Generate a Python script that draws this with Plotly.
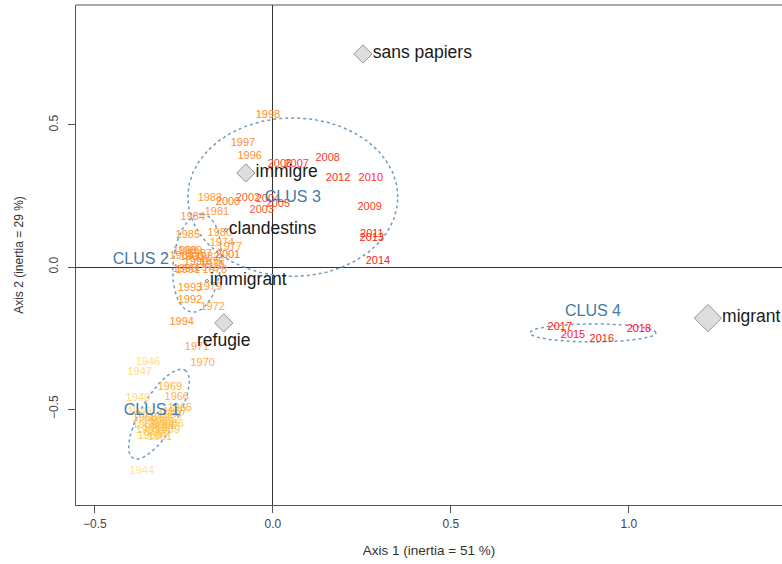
import numpy as np
import plotly.graph_objects as go

# ---------------- data ----------------
years = [1944, 1946, 1947, 1948, 1949, 1950, 1951, 1952, 1953, 1954, 1955, 1956,
         1957, 1958, 1959, 1960, 1961, 1962, 1963, 1964, 1965, 1966, 1967, 1968,
         1969, 1970, 1971, 1972, 1973, 1974, 1975, 1976, 1977, 1978, 1979, 1980,
         1981, 1982, 1983, 1984, 1985, 1986, 1987, 1988, 1989, 1990, 1991, 1992,
         1993, 1994, 1995, 1996, 1997, 1998, 1999, 2000, 2001, 2002, 2003, 2004,
         2005, 2006, 2007, 2008, 2009, 2010, 2011, 2012, 2013, 2014, 2015, 2016,
         2017, 2018]
year_x = [-0.368, -0.351, -0.374, -0.379, -0.374, -0.346, -0.317, -0.295, -0.360, -0.331, -0.303, -0.284,
          -0.351, -0.323, -0.295, -0.346, -0.317, -0.331, -0.312, -0.289, -0.261, -0.270, -0.275, -0.360,
          -0.289, -0.197, -0.213, -0.169, -0.185, -0.143, -0.169, -0.171, -0.121, -0.163, -0.177, -0.149,
          -0.157, -0.185, -0.177, -0.225, -0.239, -0.256, -0.205, -0.247, -0.233, -0.228, -0.239, -0.233,
          -0.233, -0.256, -0.247, -0.065, -0.084, -0.014, -0.216, -0.126, -0.126, -0.070, -0.031, -0.014,
          0.014, 0.020, 0.067, 0.154, 0.272, 0.275, 0.278, 0.183, 0.278, 0.295, 0.843, 0.924,
          0.806, 1.028]
year_y = [-0.718, -0.335, -0.370, -0.461, -0.511, -0.539, -0.532, -0.539, -0.556, -0.553, -0.560, -0.553,
          -0.574, -0.581, -0.574, -0.595, -0.599, -0.567, -0.546, -0.521, -0.496, -0.458, -0.511, -0.532,
          -0.423, -0.338, -0.282, -0.141, -0.004, 0.085, 0.007, 0.018, 0.070, -0.011, -0.070, 0.120,
          0.194, 0.035, 0.243, 0.176, 0.113, 0.039, 0.046, 0.056, 0.056, 0.035, -0.011, -0.116,
          -0.074, -0.194, -0.007, 0.391, 0.437, 0.535, 0.018, 0.229, 0.042, 0.243, 0.201, 0.239,
          0.222, 0.363, 0.363, 0.384, 0.211, 0.313, 0.116, 0.313, 0.102, 0.021, -0.239, -0.254,
          -0.211, -0.218]

words = ["sans papiers", "immigre", "clandestins", "immigrant", "refugie", "migrant"]
word_x = [0.253, -0.076, -0.132, -0.185, -0.138, 1.222]
word_y = [0.750, 0.331, 0.130, -0.049, -0.197, -0.180]
word_weight = [14, 14, 3, 3, 14, 21]

clusters = ["CLUS 1", "CLUS 2", "CLUS 3", "CLUS 4"]
clus_label_x = [-0.340, -0.371, 0.056, 0.899]
clus_label_y = [-0.507, 0.025, 0.243, -0.158]
# ellipse: centre and two semi-axis vectors (data units)
ell_cx = [-0.320, -0.213, 0.056, 0.899]
ell_cy = [-0.518, 0.014, 0.246, -0.232]
ell_ux = [0.073, 0.014, 0.295, 0.177]
ell_uy = [0.155, 0.173, 0.000, 0.000]
ell_vx = [0.044, 0.067, 0.000, 0.000]
ell_vy = [-0.032, -0.007, 0.279, 0.032]

x_ticks = [-0.5, 0.0, 0.5, 1.0]
y_ticks = [-0.5, 0.0, 0.5]

# ---------------- styling helpers ----------------
stops = [(1944, (255, 226, 150)), (1960, (255, 196, 80)), (1975, (255, 158, 66)),
         (1998, (255, 138, 44)), (2004, (255, 74, 42)), (2018, (255, 16, 16))]


def year_color(yr):
    for (y0, c0), (y1, c1) in zip(stops[:-1], stops[1:]):
        if y0 <= yr <= y1:
            f = (yr - y0) / (y1 - y0)
            c = [round(a + (b - a) * f) for a, b in zip(c0, c1)]
            return "rgb(%d,%d,%d)" % tuple(c)
    return "rgb(255,16,16)"


FONT = "Liberation Sans, Arial, sans-serif"
fig = go.Figure()

t = np.linspace(0, 2 * np.pi, 240)
for i in range(len(clusters)):
    ex = ell_cx[i] + ell_ux[i] * np.cos(t) + ell_vx[i] * np.sin(t)
    ey = ell_cy[i] + ell_uy[i] * np.cos(t) + ell_vy[i] * np.sin(t)
    fig.add_trace(go.Scatter(x=ex, y=ey, mode="lines",
                             line=dict(color="#6f9cc0", width=1.5, dash="dot"),
                             hoverinfo="skip", showlegend=False))

fig.add_trace(go.Scatter(x=year_x, y=year_y, mode="text", text=[str(y) for y in years],
                         textposition="middle center",
                         textfont=dict(family=FONT, size=11, color=[year_color(y) for y in years]),
                         showlegend=False))

positions = ["middle right"] * len(words)
positions[words.index("refugie")] = "bottom center"
fig.add_trace(go.Scatter(x=word_x, y=word_y, mode="markers+text", text=words,
                         textposition=positions,
                         marker=dict(symbol="diamond", size=word_weight, color="#cfcfcf",
                                     line=dict(color="#6a6a6a", width=1)),
                         textfont=dict(family=FONT, size=17.5, color="#1a1a1a"),
                         showlegend=False))

fig.add_trace(go.Scatter(x=clus_label_x, y=clus_label_y, mode="text", text=clusters,
                         textposition="middle center",
                         textfont=dict(family=FONT, size=16, color="#3f7ca6"),
                         showlegend=False))

fig.update_layout(
    width=782, height=564,
    margin=dict(l=76, r=0, t=5, b=59),
    paper_bgcolor="white", plot_bgcolor="white",
    font=dict(family=FONT, color="#444"),
    xaxis=dict(range=[-0.553, 1.430], tickvals=x_ticks, ticktext=["−0.5", "0.0", "0.5", "1.0"],
               automargin=False,
               showgrid=False, zeroline=True, zerolinecolor="#333", zerolinewidth=1,
               showline=True, linecolor="#555", linewidth=1.2,
               ticks="outside", ticklen=7, tickcolor="#555",
               tickfont=dict(size=12, color="#444"),
               title=dict(text="Axis 1 (inertia = 51 %)", font=dict(size=13.5, color="#333"), standoff=16)),
    yaxis=dict(range=[-0.838, 0.9225], tickvals=y_ticks, ticktext=["−0.5", "0.0", "0.5"],
               automargin=False,
               showgrid=False, zeroline=True, zerolinecolor="#333", zerolinewidth=1,
               showline=True, linecolor="#555", linewidth=1.2,
               ticks="outside", ticklen=7, tickcolor="#555", tickangle=-90,
               ticklabelstandoff=5,
               tickfont=dict(size=12, color="#444"),
               title=dict(text="Axis 2 (inertia = 29 %)", font=dict(size=12, color="#333"), standoff=20)),
    shapes=[dict(type="line", xref="paper", yref="paper", x0=0, x1=1, y0=1, y1=1,
                 line=dict(color="#555", width=1.2))],
)

fig.write_html("out.html", config={"displayModeBar": False},
               post_script="document.body.style.margin='0';document.body.style.padding='0';")
